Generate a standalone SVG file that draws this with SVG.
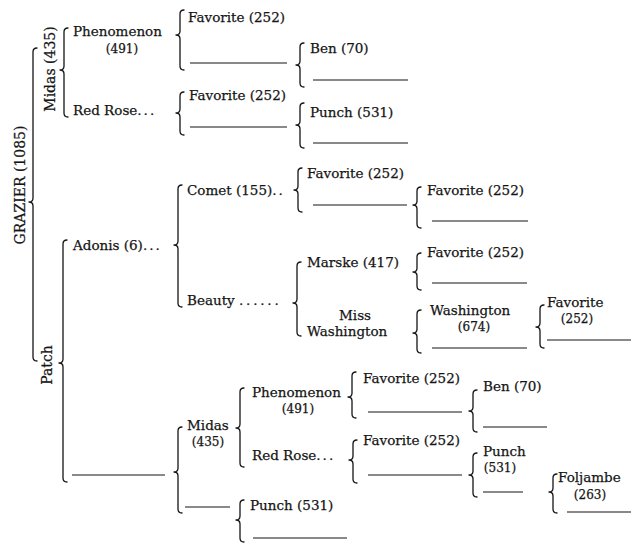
<svg xmlns="http://www.w3.org/2000/svg" width="631" height="547" viewBox="0 0 631 547">
<style>
text{font-family:"DejaVu Serif","Liberation Serif",serif;font-size:13.5px;fill:#151515;stroke:#151515;stroke-width:0.25}
.rot{font-size:14px}
.c{text-anchor:middle}
.sm{font-size:12px}
.dots{letter-spacing:2px}
.br{fill:none;stroke:#151515;stroke-width:1.3;stroke-linecap:round;stroke-linejoin:round}
.ln{stroke:#151515;stroke-width:1.2}
</style>
<rect width="631" height="547" fill="#fff"/>
<g id="connectors">
<path class="br" d="M37,48 Q33,48 33,52 L33,198 Q33,202 29,202 Q33,202 33,206 L33,357 Q33,361 37,361"/>
<path class="br" d="M68,28 Q64,28 64,32 L64,66 Q64,70 60,70 Q64,70 64,74 L64,113 Q64,117 68,117"/>
<path class="br" d="M67,240 Q63,240 63,244 L63,359 Q63,363 59,363 Q63,363 63,367 L63,478 Q63,482 67,482"/>
<path class="br" d="M184,10 Q180,10 180,14 L180,31 Q180,35 176,35 Q180,35 180,39 L180,66 Q180,70 184,70"/>
<path class="br" d="M184,92 Q180,92 180,96 L180,109 Q180,113 176,113 Q180,113 180,117 L180,131 Q180,135 184,135"/>
<path class="br" d="M304,43 Q300,43 300,47 L300,61 Q300,65 296,65 Q300,65 300,69 L300,83 Q300,87 304,87"/>
<path class="br" d="M304,103 Q300,103 300,107 L300,121 Q300,125 296,125 Q300,125 300,129 L300,144 Q300,148 304,148"/>
<path class="br" d="M182,185 Q178,185 178,189 L178,241 Q178,245 174,245 Q178,245 178,249 L178,303 Q178,307 182,307"/>
<path class="br" d="M302,168 Q298,168 298,172 L298,186 Q298,190 294,190 Q298,190 298,194 L298,208 Q298,212 302,212"/>
<path class="br" d="M421,187 Q417,187 417,191 L417,201 Q417,205 413,205 Q417,205 417,209 L417,224 Q417,228 421,228"/>
<path class="br" d="M301,262 Q297,262 297,266 L297,299 Q297,303 293,303 Q297,303 297,307 L297,332 Q297,336 301,336"/>
<path class="br" d="M421,253 Q417,253 417,257 L417,268 Q417,272 413,272 Q417,272 417,276 L417,286 Q417,290 421,290"/>
<path class="br" d="M421,310 Q417,310 417,314 L417,329 Q417,333 413,333 Q417,333 417,337 L417,349 Q417,353 421,353"/>
<path class="br" d="M544,305 Q540,305 540,309 L540,323 Q540,327 536,327 Q540,327 540,331 L540,344 Q540,348 544,348"/>
<path class="br" d="M182,427 Q178,427 178,431 L178,468 Q178,472 174,472 Q178,472 178,476 L178,509 Q178,513 182,513"/>
<path class="br" d="M244,388 Q240,388 240,392 L240,424 Q240,428 236,428 Q240,428 240,432 L240,463 Q240,467 244,467"/>
<path class="br" d="M356,372 Q352,372 352,376 L352,393 Q352,397 348,397 Q352,397 352,401 L352,414 Q352,418 356,418"/>
<path class="br" d="M357,440 Q353,440 353,444 L353,456 Q353,460 349,460 Q353,460 353,464 L353,479 Q353,483 357,483"/>
<path class="br" d="M477,390 Q473,390 473,394 L473,407 Q473,411 469,411 Q473,411 473,415 L473,428 Q473,432 477,432"/>
<path class="br" d="M477,453 Q473,453 473,457 L473,471 Q473,475 469,475 Q473,475 473,479 L473,493 Q473,497 477,497"/>
<path class="br" d="M557,474 Q553,474 553,478 L553,488 Q553,492 549,492 Q553,492 553,496 L553,509 Q553,513 557,513"/>
<path class="br" d="M244,500 Q240,500 240,504 L240,516 Q240,520 236,520 Q240,520 240,524 L240,538 Q240,542 244,542"/>
<line class="ln" x1="190" y1="63" x2="287" y2="63"/>
<line class="ln" x1="313" y1="80" x2="408" y2="80"/>
<line class="ln" x1="190" y1="127" x2="287" y2="127"/>
<line class="ln" x1="313" y1="143" x2="408" y2="143"/>
<line class="ln" x1="313" y1="205" x2="407" y2="205"/>
<line class="ln" x1="432" y1="221" x2="528" y2="221"/>
<line class="ln" x1="432" y1="283" x2="527" y2="283"/>
<line class="ln" x1="432" y1="348" x2="527" y2="348"/>
<line class="ln" x1="547" y1="340" x2="631" y2="340"/>
<line class="ln" x1="72" y1="475" x2="165" y2="475"/>
<line class="ln" x1="368" y1="412" x2="462" y2="412"/>
<line class="ln" x1="368" y1="475" x2="462" y2="475"/>
<line class="ln" x1="483" y1="427" x2="547" y2="427"/>
<line class="ln" x1="483" y1="492" x2="523" y2="492"/>
<line class="ln" x1="567" y1="512" x2="631" y2="512"/>
<line class="ln" x1="185" y1="507" x2="230" y2="507"/>
<line class="ln" x1="253" y1="538" x2="347" y2="538"/>
</g>
<g id="grazier"><text class="rot c" transform="translate(25,185) rotate(-90)">GRAZIER (1085)</text></g>
<g id="midas-top"><text class="rot c" transform="translate(55,69) rotate(-90)">Midas (435)</text></g>
<g id="patch"><text class="rot c" transform="translate(52,365) rotate(-90)">Patch</text></g>
<g id="phenomenon-top"><text x="73" y="36">Phenomenon</text><text class="c sm" x="122" y="53">(491)</text></g>
<g id="redrose-top"><text x="73" y="115">Red Rose<tspan class="dots">...</tspan></text></g>
<g id="favorite-1"><text x="188" y="22">Favorite (252)</text></g>
<g id="favorite-2"><text x="189" y="100">Favorite (252)</text></g>
<g id="ben-top"><text x="310" y="53">Ben (70)</text></g>
<g id="punch-top"><text x="310" y="117">Punch (531)</text></g>
<g id="adonis"><text x="73" y="250">Adonis (6)<tspan class="dots">...</tspan></text></g>
<g id="comet"><text x="187" y="195">Comet (155)<tspan class="dots">..</tspan></text></g>
<g id="favorite-3"><text x="307" y="178">Favorite (252)</text></g>
<g id="favorite-4"><text x="427" y="195">Favorite (252)</text></g>
<g id="beauty"><text x="187" y="305">Beauty <tspan style="letter-spacing:2.8px">......</tspan></text></g>
<g id="marske"><text x="307" y="267">Marske (417)</text></g>
<g id="favorite-5"><text x="427" y="257">Favorite (252)</text></g>
<g id="miss-washington"><text class="c" x="355" y="320">Miss</text><text x="307" y="336">Washington</text></g>
<g id="washington"><text x="430" y="315">Washington</text><text class="c sm" x="474" y="331">(674)</text></g>
<g id="favorite-6"><text x="547" y="307">Favorite</text><text class="c sm" x="577" y="323">(252)</text></g>
<g id="midas-bottom"><text x="187" y="430">Midas</text><text class="c sm" x="208" y="446">(435)</text></g>
<g id="phenomenon-bottom"><text x="252" y="397">Phenomenon</text><text class="c sm" x="298" y="413">(491)</text></g>
<g id="redrose-bottom"><text x="252" y="460">Red Rose<tspan class="dots">...</tspan></text></g>
<g id="favorite-7"><text x="363" y="383">Favorite (252)</text></g>
<g id="favorite-8"><text x="363" y="445">Favorite (252)</text></g>
<g id="ben-bottom"><text x="483" y="391">Ben (70)</text></g>
<g id="punch-right"><text x="483" y="456">Punch</text><text class="c sm" x="500" y="472">(531)</text></g>
<g id="foljambe"><text x="558" y="482">Foljambe</text><text class="c sm" x="590" y="499">(263)</text></g>
<g id="punch-bottom"><text x="250" y="510">Punch (531)</text></g>
</svg>
